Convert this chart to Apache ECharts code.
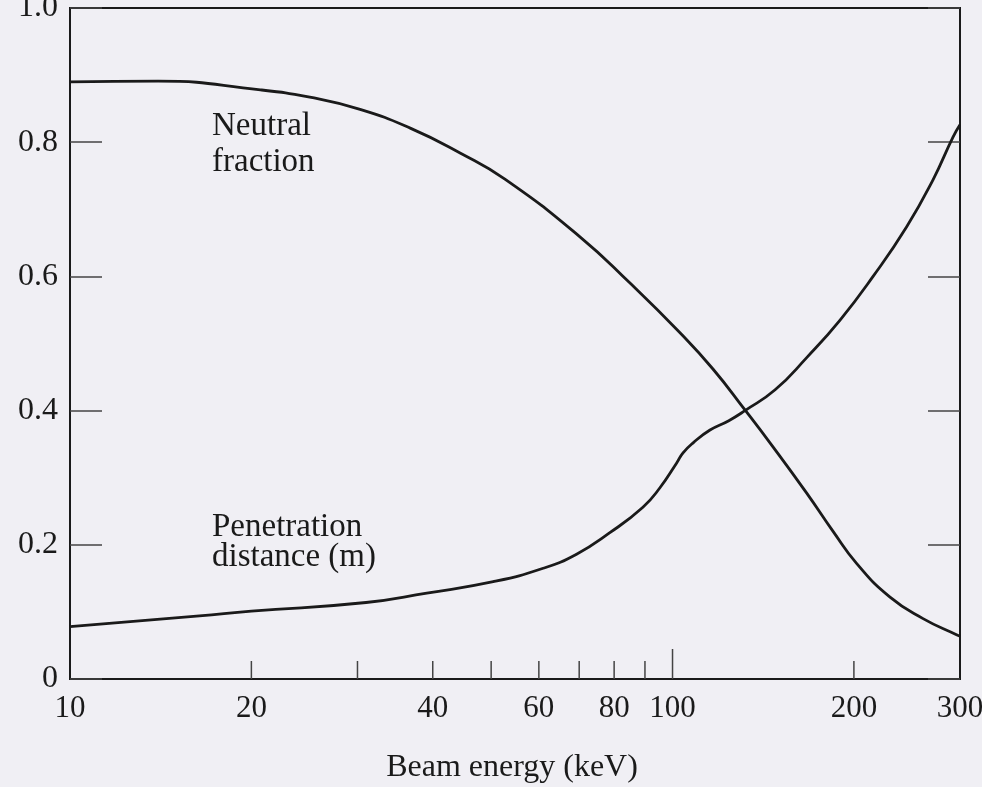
<!DOCTYPE html>
<html><head><meta charset="utf-8">
<script src="https://cdn.jsdelivr.net/npm/echarts/dist/echarts.min.js"></script>
<style>html,body{margin:0;padding:0;background:#f0eff4;}#c{width:982px;height:787px;}</style>
</head><body><div id="c"></div>
<script>
// Neutral fraction vs beam energy (keV)
const neutralEnergy = [10, 14, 20.7, 25, 30.3, 36.7, 44.4, 52.7, 70.2, 85, 102.9, 116.7, 131.9, 146.8, 167, 184.7, 202.2, 229.6, 260.5, 296, 300];
const neutralFraction = [0.890, 0.891, 0.878, 0.867, 0.849, 0.821, 0.784, 0.745, 0.659, 0.590, 0.516, 0.462, 0.401, 0.346, 0.277, 0.220, 0.172, 0.122, 0.090, 0.066, 0.064];
// Penetration distance (m) vs beam energy (keV)
const penetrationEnergy = [10, 16.4, 20, 31, 39.1, 50.4, 61, 69.3, 78.7, 89.3, 95.3, 101.6, 104.1, 108.2, 115.4, 124, 131.9, 148, 167, 189.7, 215.2, 244.7, 270.6, 292.2, 300];
const penetrationDistance = [0.078, 0.094, 0.101, 0.114, 0.128, 0.145, 0.165, 0.186, 0.218, 0.256, 0.285, 0.322, 0.337, 0.352, 0.371, 0.385, 0.400, 0.431, 0.479, 0.535, 0.600, 0.674, 0.744, 0.808, 0.826];
// Axis ticks / labels
const xTickValues = [20, 30, 40, 50, 60, 70, 80, 90, 100, 200];
const xLabelValues = [10, 20, 40, 60, 80, 100, 200, 300];
const xTitle = 'Beam energy (keV)';
const annotNeutral = 'Neutral\nfraction';
const annotPenetration = 'Penetration\ndistance (m)';

const FONT = '"Liberation Serif", "Times New Roman", serif';
const INK = '#1a1a1a';

const chart = echarts.init(document.getElementById('c'));
const yAxisBase = {
  type: 'value', min: 0, max: 1, interval: 0.2,
  axisLine: { show: true, lineStyle: { color: INK, width: 2 } },
  axisTick: { show: true, inside: true, length: 32, lineStyle: { color: '#444', width: 1.5 } },
  splitLine: { show: false }
};
chart.setOption({
  backgroundColor: '#f0eff4',
  animation: false,
  grid: { left: 70, right: 22, top: 8, bottom: 108, outerBoundsMode: 'none', containLabel: false,
    show: true, borderColor: INK, borderWidth: 2, backgroundColor: 'transparent' },
  xAxis: {
    type: 'log', logBase: 10, min: 10, max: 300,
    axisLine: { show: true, lineStyle: { color: INK, width: 2 } },
    axisTick: { show: false }, axisLabel: { show: false }, splitLine: { show: false }, minorTick: { show: false }
  },
  yAxis: [
    Object.assign({}, yAxisBase, {
      position: 'left',
      axisLabel: { show: true, margin: 12, fontFamily: FONT, fontSize: 32, color: INK,
        formatter: v => v === 0 ? '0' : v.toFixed(1) }
    }),
    Object.assign({}, yAxisBase, { position: 'right', axisLabel: { show: false } })
  ],
  series: [
    {
      type: 'line', name: 'Neutral fraction', smooth: 0.5, symbol: 'none',
      data: neutralEnergy.map((e, i) => [e, neutralFraction[i]]),
      lineStyle: { color: INK, width: 2.8 }
    },
    {
      type: 'line', name: 'Penetration distance', smooth: 0.5, symbol: 'none',
      data: penetrationEnergy.map((e, i) => [e, penetrationDistance[i]]),
      lineStyle: { color: INK, width: 2.8 }
    },
    {
      type: 'custom', name: 'xticks', silent: true, clip: false,
      data: xTickValues.map(v => [v, 0]),
      renderItem: (params, api) => {
        const p = api.coord([api.value(0), 0]);
        const len = api.value(0) === 100 ? 30 : 18;
        return { type: 'line', shape: { x1: p[0], y1: p[1], x2: p[0], y2: p[1] - len },
          style: { stroke: '#444', lineWidth: 1.5 } };
      }
    },
    {
      type: 'custom', name: 'xlabels', silent: true, clip: false,
      data: xLabelValues.map(v => [v, 0]),
      renderItem: (params, api) => {
        const p = api.coord([api.value(0), 0]);
        return { type: 'text', x: p[0], y: p[1] + 30,
          style: { text: String(api.value(0)), font: '31px ' + FONT, fill: INK, align: 'center', verticalAlign: 'middle' } };
      }
    }
  ],
  graphic: [
    { type: 'text', left: 212, top: 108, style: { text: annotNeutral, font: '33px ' + FONT, lineHeight: 36, fill: INK } },
    { type: 'text', left: 212, top: 511, style: { text: annotPenetration, font: '33px ' + FONT, lineHeight: 30, fill: INK } },
    { type: 'text', x: 512, y: 768, style: { text: xTitle, font: '32px ' + FONT, fill: INK, align: 'center', verticalAlign: 'middle' } }
  ]
});
</script>
</body></html>
